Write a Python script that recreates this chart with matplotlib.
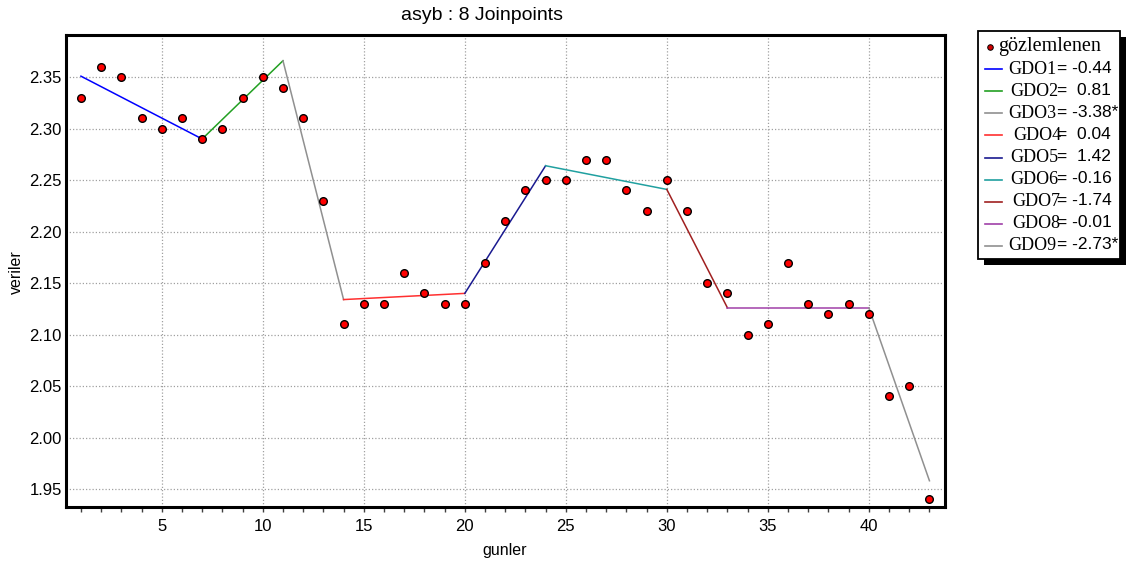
import numpy as np
import matplotlib
matplotlib.use("Agg")
import matplotlib.pyplot as plt
from matplotlib.ticker import MultipleLocator, FormatStrFormatter
from matplotlib.patches import Rectangle
from matplotlib.lines import Line2D

# Observed series
gunler = np.arange(1, 44)
gozlemlenen = [2.33, 2.36, 2.35, 2.31, 2.30, 2.31, 2.29, 2.30, 2.33, 2.35,
               2.34, 2.31, 2.23, 2.11, 2.13, 2.13, 2.16, 2.14, 2.13, 2.13,
               2.17, 2.21, 2.24, 2.25, 2.25, 2.27, 2.27, 2.24, 2.22, 2.25,
               2.22, 2.15, 2.14, 2.10, 2.11, 2.17, 2.13, 2.12, 2.13, 2.12,
               2.04, 2.05, 1.94]

# Joinpoint model: segment endpoints and fitted values
joinpoints_x = [1, 7, 11, 14, 20, 24, 30, 33, 40, 43]
joinpoints_y = [2.351, 2.290, 2.366, 2.134, 2.140, 2.264, 2.241, 2.126, 2.126, 1.958]

# Segment daily percent changes (GDO) and significance flags
gdo_names = ["GDO1", "GDO2", "GDO3", "GDO4", "GDO5", "GDO6", "GDO7", "GDO8", "GDO9"]
gdo_values = [-0.44, 0.81, -3.38, 0.04, 1.42, -0.16, -1.74, -0.01, -2.73]
gdo_significant = [False, False, True, False, False, False, False, False, True]
gdo_colors = ["#0000ff", "#22a022", "#909090", "#ff3030", "#1a1a90",
              "#20a0a0", "#a02020", "#a040a8", "#909090"]

W, H = 1129, 567
fig = plt.figure(figsize=(W / 100, H / 100), dpi=100)
ax = fig.add_axes([66 / W, 1 - 507 / H, (945 - 66) / W, (507 - 35) / H])


def fx(x):
    return x / W


def fy(y):
    return 1 - y / H


for i in range(len(gdo_names)):
    x0, x1 = joinpoints_x[i], joinpoints_x[i + 1]
    xs = np.arange(x0, x1 + 1)
    ys = np.interp(xs, joinpoints_x, joinpoints_y)
    ax.plot(xs, ys, color=gdo_colors[i], lw=1.1, zorder=2)

ax.plot(gunler, gozlemlenen, ls="none", marker="o", ms=5.5, mfc="#ff0000",
        mec="black", mew=1.0, zorder=3)

ax.set_xlim(0.26, 43.77)
ax.set_ylim(1.9325, 2.391)
ax.xaxis.set_major_locator(MultipleLocator(5))
ax.xaxis.set_minor_locator(MultipleLocator(1))
ax.yaxis.set_major_locator(MultipleLocator(0.05))
ax.yaxis.set_major_formatter(FormatStrFormatter("%.2f"))
ax.grid(True, which="major", color="#a0a0a0", ls=(0, (1, 1.6)), lw=0.9)
ax.tick_params(axis="x", which="both", direction="out", length=3.5, width=1,
               color="#404040", labelsize=12, pad=5)
ax.tick_params(axis="y", which="major", length=0, labelsize=12, pad=3)
for s in ax.spines.values():
    s.set_linewidth(2.2)
    s.set_color("black")

for lbl in ax.get_xticklabels() + ax.get_yticklabels():
    lbl.set_family("Liberation Sans")

fig.text(fx(482), fy(20), "asyb : 8 Joinpoints", family="Liberation Sans",
         fontsize=14, ha="center", va="baseline")
fig.text(fx(505), fy(550), "gunler", family="Liberation Sans", fontsize=11.5,
         ha="center", va="center")
fig.text(fx(16), fy(272), "veriler", family="Liberation Sans", fontsize=11.5,
         ha="center", va="center", rotation=90)

# Legend box with drop shadow
lx0, lx1, ly0, ly1 = 978, 1120, 31, 259
shadow = 6
fig.patches.append(Rectangle((fx(lx0 + shadow), fy(ly1 + shadow)),
                             fx(lx1 - lx0), (ly1 - ly0) / H,
                             transform=fig.transFigure, facecolor="black",
                             edgecolor="black", lw=0, zorder=1))
fig.patches.append(Rectangle((fx(lx0), fy(ly1)), fx(lx1 - lx0), (ly1 - ly0) / H,
                             transform=fig.transFigure, facecolor="white",
                             edgecolor="black", lw=1.3, zorder=2))

row0 = 47
row_step = 22.1
name_shift = [0, 2, 0, 5, 2, 2, 4, 4, 0]
fig.lines.append(Line2D([fx(990)], [fy(row0)], transform=fig.transFigure,
                        marker="o", ms=4, mfc="#d00000", mec="black", mew=0.7,
                        ls="none", zorder=3))
fig.text(fx(998), fy(row0), "gözlemlenen", family="Liberation Serif",
         fontsize=14.5, ha="left", va="center", zorder=3)

for i, (name, val, sig, col) in enumerate(zip(gdo_names, gdo_values,
                                                gdo_significant, gdo_colors)):
    yy = row0 + row_step * (i + 1)
    fig.lines.append(Line2D([fx(985), fx(1002)], [fy(yy), fy(yy)],
                            transform=fig.transFigure, color=col, lw=1.2,
                            zorder=3))
    fig.text(fx(1008 + name_shift[i]), fy(yy), name, family="Liberation Serif",
             fontsize=13, ha="left", va="center", zorder=3)
    fig.text(fx(1057), fy(yy - 1), "= " + f"{val:5.2f}" + ("*" if sig else ""),
             family="Liberation Sans", fontsize=12.5, ha="left", va="center",
             zorder=3)

fig.savefig("out.png", dpi=100)
